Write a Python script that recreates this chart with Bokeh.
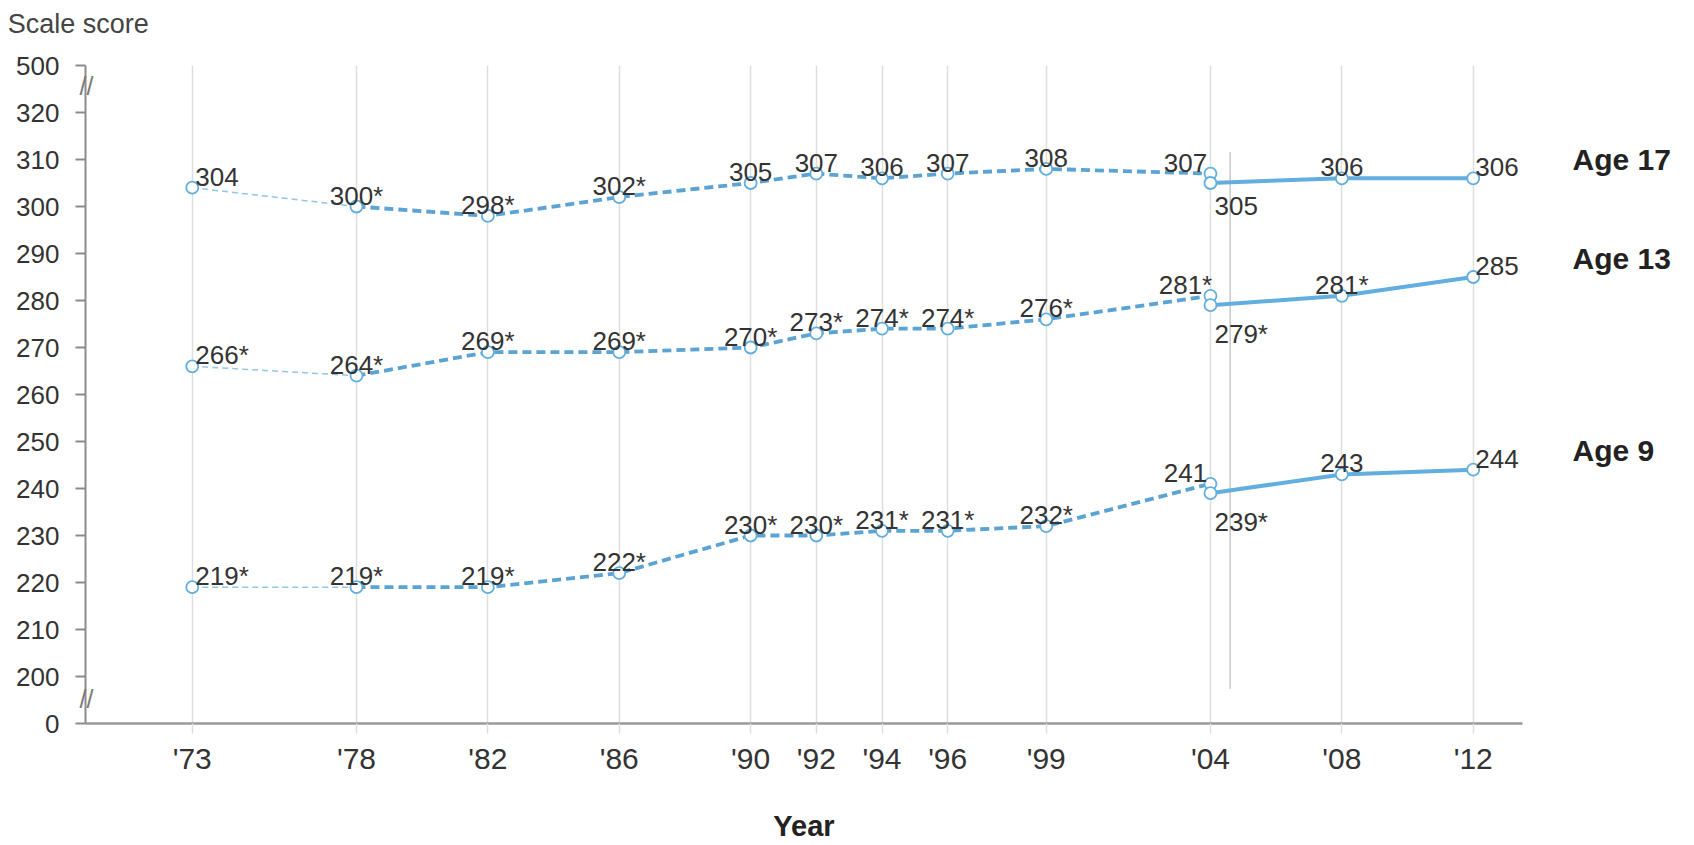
from bokeh.plotting import figure
from bokeh.models import Range1d, FixedTicker, ColumnDataSource, LinearAxis
from bokeh.embed import file_html
from bokeh.resources import INLINE
from bokeh.core.properties import value

# ---------------- data ----------------
YEARS = [1973, 1978, 1982, 1986, 1990, 1992, 1994, 1996, 1999, 2004, 2008, 2012]
YEAR_LABELS = ["'73", "'78", "'82", "'86", "'90", "'92", "'94", "'96", "'99", "'04", "'08", "'12"]

years_old = [1973, 1978, 1982, 1986, 1990, 1992, 1994, 1996, 1999, 2004]
years_new = [2004, 2008, 2012]

age17_old = [304, 300, 298, 302, 305, 307, 306, 307, 308, 307]
age17_old_sig = [0, 1, 1, 1, 0, 0, 0, 0, 0, 0]
age17_new = [305, 306, 306]
age17_new_sig = [0, 0, 0]

age13_old = [266, 264, 269, 269, 270, 273, 274, 274, 276, 281]
age13_old_sig = [1, 1, 1, 1, 1, 1, 1, 1, 1, 1]
age13_new = [279, 281, 285]
age13_new_sig = [1, 1, 0]

age9_old = [219, 219, 219, 222, 230, 230, 231, 231, 232, 241]
age9_old_sig = [1, 1, 1, 1, 1, 1, 1, 1, 1, 0]
age9_new = [239, 243, 244]
age9_new_sig = [1, 0, 0]

SERIES_NAMES = ["Age 17", "Age 13", "Age 9"]
Y_TITLE = "Scale score"
X_TITLE = "Year"

# y axis with breaks: display 190 -> "0", 330 -> "500"
Y_TICKS = [190, 200, 210, 220, 230, 240, 250, 260, 270, 280, 290, 300, 310, 320, 330]
Y_TICK_LABELS = ["0", "200", "210", "220", "230", "240", "250", "260", "270", "280",
                 "290", "300", "310", "320", "500"]
Y_BREAKS = [325.6, 195.2]
BREAK_YEAR = 2004.6  # separator between original and revised assessment

FONT = "Liberation Sans"
BLUE_DASH = "#5aa3d2"
BLUE_SOLID = "#62afdf"
BLUE_THIN = "#93c6e6"
TEXT = "#333333"
AXIS_GRAY = "#8c8c8c"

X0 = 1969.75
p = figure(width=1694, height=845,
           x_range=Range1d(X0, 2013.5), y_range=Range1d(190, 330),
           output_backend="svg", toolbar_location=None,
           min_border_left=85, min_border_right=172,
           min_border_top=65, min_border_bottom=122)
p.outline_line_color = None
p.background_fill_color = "white"
p.ygrid.visible = False
p.xgrid.ticker = FixedTicker(ticks=YEARS)
p.xgrid.grid_line_color = "#dedede"
p.xgrid.grid_line_width = 1.5

# x axis
p.xaxis.ticker = FixedTicker(ticks=YEARS)
p.xaxis.major_label_overrides = {y: l for y, l in zip(YEARS, YEAR_LABELS)}
p.xaxis.axis_line_color = "#9a9a9a"
p.xaxis.axis_line_width = 2.5
p.xaxis.major_tick_line_color = "#dedede"
p.xaxis.major_tick_line_width = 1.5
p.xaxis.major_tick_out = 10
p.xaxis.major_tick_in = 0
p.xaxis.minor_tick_line_color = None
p.xaxis.major_label_text_font = FONT
p.xaxis.major_label_text_font_size = "30px"
p.xaxis.major_label_text_color = TEXT
p.xaxis.major_label_standoff = 8
p.xaxis.axis_label = X_TITLE
p.xaxis.axis_label_text_font = FONT
p.xaxis.axis_label_text_font_size = "29px"
p.xaxis.axis_label_text_font_style = "bold"
p.xaxis.axis_label_text_color = "#222222"
p.xaxis.axis_label_standoff = 32

# y axis
p.yaxis.ticker = FixedTicker(ticks=Y_TICKS)
p.yaxis.major_label_overrides = {t: l for t, l in zip(Y_TICKS, Y_TICK_LABELS)}
p.yaxis.axis_line_color = AXIS_GRAY
p.yaxis.axis_line_width = 2
p.yaxis.major_tick_line_color = AXIS_GRAY
p.yaxis.major_tick_line_width = 2
p.yaxis.major_tick_out = 10
p.yaxis.major_tick_in = 0
p.yaxis.minor_tick_line_color = None
p.yaxis.major_label_text_font = FONT
p.yaxis.major_label_text_font_size = "26px"
p.yaxis.major_label_text_color = TEXT
p.yaxis.major_label_standoff = 16

# axis break marks: labels of an outer left axis, pulled back onto the y axis line
brk = LinearAxis(ticker=FixedTicker(ticks=Y_BREAKS),
                 major_label_overrides={b: "//" for b in Y_BREAKS},
                 axis_line_color=None, major_tick_line_color=None,
                 minor_tick_line_color=None, major_tick_out=0, major_tick_in=0,
                 major_label_standoff=-80, major_label_text_font=FONT,
                 major_label_text_font_size="25px", major_label_text_color="#7a7a7a")
p.add_layout(brk, "left")

# y title "Scale score": label of a top axis at the left end of the x range
title_tick = X0 + 0.01
top_axis = LinearAxis(ticker=FixedTicker(ticks=[title_tick]),
                      major_label_overrides={title_tick: Y_TITLE + "\u00a0\u00a0"},
                      axis_line_color=None, major_tick_line_color=None,
                      minor_tick_line_color=None, major_tick_out=0, major_tick_in=0,
                      major_label_standoff=27, major_label_text_font=FONT,
                      major_label_text_font_size="27px", major_label_text_color="#444444")
p.add_layout(top_axis, "above")

# assessment separator
p.segment(x0=[BREAK_YEAR], y0=[197.4], x1=[BREAK_YEAR], y1=[311.6],
          line_color="#c8c8c8", line_width=1.5)


def lab(vals, sig):
    return [f"{v}{'*' if s else ''}" for v, s in zip(vals, sig)]


series = [
    (age17_old, age17_old_sig, age17_new, age17_new_sig),
    (age13_old, age13_old_sig, age13_new, age13_new_sig),
    (age9_old, age9_old_sig, age9_new, age9_new_sig),
]

text_kw = dict(text_font=value(FONT), text_font_size="26px", text_color=TEXT)

for name, (old, old_sig, new, new_sig) in zip(SERIES_NAMES, series):
    # lines
    p.line(years_old[:2], old[:2], line_color=BLUE_THIN, line_width=1.5, line_dash="6 4")
    p.line(years_old[1:], old[1:], line_color=BLUE_DASH, line_width=3.8, line_dash="9 5")
    p.line(years_new, new, line_color=BLUE_SOLID, line_width=4)
    # markers
    p.scatter(years_old, old, size=12, fill_color="white", line_color=BLUE_SOLID, line_width=1.8)
    p.scatter(years_new, new, size=12, fill_color="white", line_color=BLUE_SOLID, line_width=1.8)

    ol = lab(old, old_sig)
    nl = lab(new, new_sig)
    p.text(x=years_old[:1], y=old[:1], text=ol[:1], text_align="left",
           text_baseline="alphabetic", x_offset=3, y_offset=-11, **text_kw)
    src = ColumnDataSource(dict(x=years_old[1:], y=old[1:], t=ol[1:],
                                xo=[0] * 8 + [-25]))
    p.text(x="x", y="y", text="t", source=src, text_align="center",
           text_baseline="alphabetic", x_offset="xo", y_offset=-11, **text_kw)
    p.text(x=years_new[:1], y=new[:1], text=nl[:1], text_align="left",
           text_baseline="top", x_offset=4, y_offset=14, **text_kw)
    p.text(x=years_new[1:2], y=new[1:2], text=nl[1:2], text_align="center",
           text_baseline="alphabetic", x_offset=0, y_offset=-11, **text_kw)
    p.text(x=years_new[2:], y=new[2:], text=nl[2:], text_align="left",
           text_baseline="alphabetic", x_offset=2, y_offset=-11, **text_kw)

# series names on a right-hand axis, next to each series' last value
name_pos = [s[2][-1] + 4 for s in series]
names_axis = LinearAxis(ticker=FixedTicker(ticks=name_pos),
                        major_label_overrides={y: n for y, n in zip(name_pos, SERIES_NAMES)},
                        axis_line_color=None, major_tick_line_color=None,
                        minor_tick_line_color=None, major_tick_out=0, major_tick_in=0,
                        major_label_standoff=50, major_label_text_font=FONT,
                        major_label_text_font_size="30px", major_label_text_font_style="bold",
                        major_label_text_color="#222222")
p.add_layout(names_axis, "right")

open("out.html", "w").write(file_html(p, INLINE))
